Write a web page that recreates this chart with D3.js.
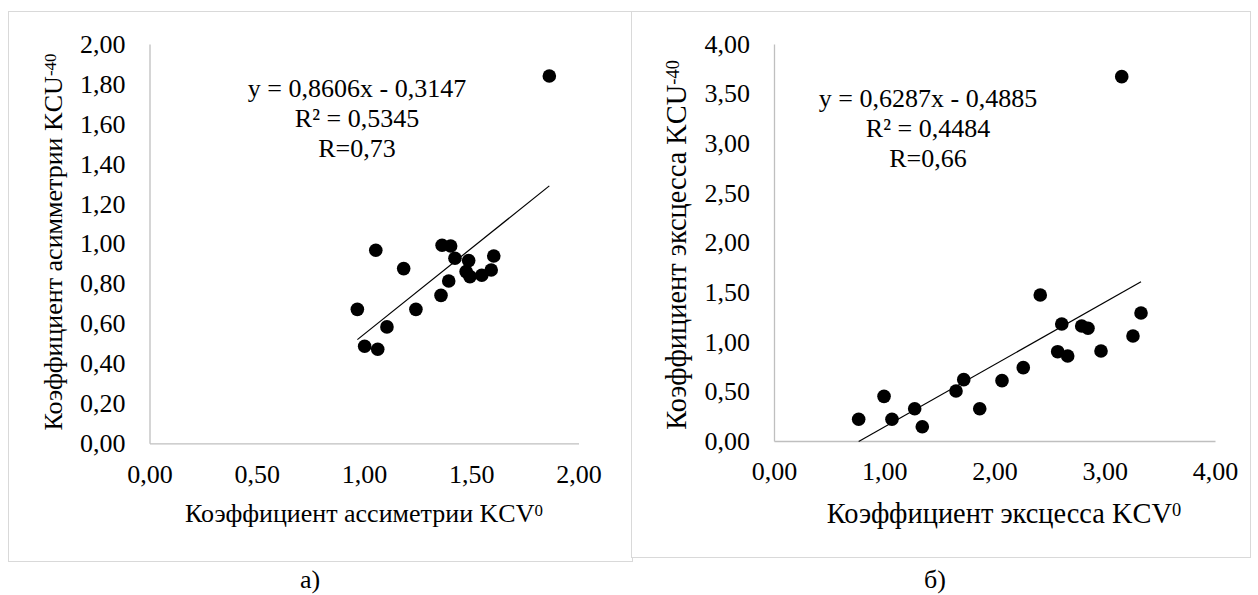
<!DOCTYPE html>
<html>
<head>
<meta charset="utf-8">
<script src="https://cdn.jsdelivr.net/npm/d3@7"></script>
<style>
  body { margin: 0; background: #fff; }
  svg text { font-family: "Liberation Serif", Tinos, "Times New Roman", "DejaVu Serif", serif; fill: #000; }
</style>
</head>
<body>
<svg width="1258" height="595"></svg>
<script>
// ---- data: chart а) (asymmetry) ----
const asymX = [1.055, 1.185, 0.969, 1.107, 1.003, 1.064, 1.242, 1.359, 1.395, 1.364,
               1.404, 1.424, 1.488, 1.476, 1.494, 1.549, 1.593, 1.605, 1.864];
const asymY = [0.967, 0.875, 0.671, 0.583, 0.486, 0.471, 0.671, 0.741, 0.813, 0.992,
               0.988, 0.927, 0.915, 0.860, 0.835, 0.842, 0.868, 0.938, 1.840];
const asymTrend = {slope: 0.8606, intercept: -0.3147};
const asymEq = ['y = 0,8606x - 0,3147', 'R² = 0,5345', 'R=0,73'];
const asymXTicks = [0, 0.5, 1, 1.5, 2];
const asymYTicks = [0, 0.2, 0.4, 0.6, 0.8, 1, 1.2, 1.4, 1.6, 1.8, 2];

// ---- data: chart б) (excess) ----
const excX = [0.768, 0.998, 1.070, 1.276, 1.345, 1.651, 1.721, 1.866, 2.068, 2.261,
              2.415, 2.610, 2.573, 2.664, 2.791, 2.848, 2.966, 3.256, 3.329, 3.154];
const excY = [0.219, 0.450, 0.219, 0.325, 0.144, 0.504, 0.618, 0.325, 0.608, 0.739,
              1.471, 1.179, 0.900, 0.856, 1.159, 1.136, 0.907, 1.058, 1.290, 3.671];
const excTrend = {slope: 0.6287, intercept: -0.4885};
const excEq = ['y = 0,6287x - 0,4885', 'R² = 0,4484', 'R=0,66'];
const excXTicks = [0, 1, 2, 3, 4];
const excYTicks = [0, 0.5, 1, 1.5, 2, 2.5, 3, 3.5, 4];

const svg = d3.select('svg');
const ru = d3.formatLocale({decimal: ',', thousands: ' ', grouping: [3], currency: ['', '']});
const fmt = ru.format('.2f');

// chart frames (right one drawn over the left one)
svg.append('rect').attr('x', 8.5).attr('y', 11.5).attr('width', 624).attr('height', 550)
    .attr('fill', '#fff').attr('stroke', '#d9d9d9');
svg.append('rect').attr('x', 631.5).attr('y', 11.5).attr('width', 619).attr('height', 546)
    .attr('fill', '#fff').attr('stroke', '#d9d9d9');

const drawPanel = function(p) {
    var x = d3.scaleLinear().domain([0, p.xMax]).range(p.xRange);
    var y = d3.scaleLinear().domain([0, p.yMax]).range(p.yRange);

    var yAxis = svg.append('g')
        .attr('transform', `translate(${p.xRange[0]},0)`)
        .call(d3.axisLeft(y).tickValues(p.yTicks).tickFormat(fmt).tickSize(0).tickPadding(24));
    var xAxis = svg.append('g')
        .attr('transform', `translate(0,${p.yRange[0]})`)
        .call(d3.axisBottom(x).tickValues(p.xTicks).tickFormat(fmt).tickSize(0).tickPadding(21));

    [xAxis, yAxis].forEach(function(a) {
        a.attr('font-family', null).attr('font-size', null);
        a.select('.domain').attr('stroke', '#bfbfbf').attr('stroke-width', 1.3);
        a.selectAll('text').style('font-size', '26px').attr('fill', '#000');
    });

    // trend line over the data range
    var x0 = d3.min(p.xs), x1 = d3.max(p.xs);
    svg.append('line')
        .attr('x1', x(x0)).attr('y1', y(p.trend.slope * x0 + p.trend.intercept))
        .attr('x2', x(x1)).attr('y2', y(p.trend.slope * x1 + p.trend.intercept))
        .attr('stroke', '#000').attr('stroke-width', 1.2);

    svg.append('g').selectAll('circle')
        .data(p.xs.map((d, i) => [d, p.ys[i]]))
        .enter()
        .append('circle')
        .attr('cx', d => x(d[0]))
        .attr('cy', d => y(d[1]))
        .attr('r', 6.8)
        .attr('fill', '#000');

    // equation block
    svg.append('g').selectAll('text')
        .data(p.eq)
        .enter()
        .append('text')
        .attr('x', p.eqPos[0])
        .attr('y', (d, i) => p.eqPos[1] + i * 30)
        .attr('text-anchor', 'middle')
        .style('font-size', '26px')
        .text(d => d);

    // x title
    var xt = svg.append('text')
        .attr('x', p.xTitlePos[0]).attr('y', p.xTitlePos[1])
        .attr('text-anchor', 'middle')
        .style('font-size', p.titleSize + 'px')
        .text(p.xTitle);
    xt.append('tspan').attr('baseline-shift', '38%').style('font-size', (p.titleSize * 0.65) + 'px').text('0');

    // y title
    var yt = svg.append('text')
        .attr('transform', `translate(${p.yTitlePos[0]},${p.yTitlePos[1]}) rotate(-90)`)
        .attr('text-anchor', 'middle')
        .style('font-size', p.titleSize + 'px')
        .text(p.yTitle);
    yt.append('tspan').attr('baseline-shift', '38%').style('font-size', (p.titleSize * 0.65) + 'px').text('-40');

    svg.append('text')
        .attr('x', p.caption[0]).attr('y', p.caption[1])
        .attr('text-anchor', 'middle')
        .style('font-size', '26px')
        .text(p.captionText);
};

drawPanel({
    xs: asymX, ys: asymY, trend: asymTrend, eq: asymEq,
    xMax: 2, yMax: 2, xTicks: asymXTicks, yTicks: asymYTicks,
    xRange: [149.5, 578.5], yRange: [443.3, 44],
    eqPos: [357, 97], titleSize: 26,
    xTitle: 'Коэффициент ассиметрии KCV', xTitlePos: [364, 522],
    yTitle: 'Коэффициент асимметрии KCU', yTitlePos: [62, 242],
    caption: [310, 588], captionText: 'а)'
});

drawPanel({
    xs: excX, ys: excY, trend: excTrend, eq: excEq,
    xMax: 4, yMax: 4, xTicks: excXTicks, yTicks: excYTicks,
    xRange: [774, 1215], yRange: [441, 44],
    eqPos: [928, 107], titleSize: 28.4,
    xTitle: 'Коэффициент эксцесса KCV', xTitlePos: [1004, 523],
    yTitle: 'Коэффициент эксцесса KCU', yTitlePos: [686, 245],
    caption: [935, 588], captionText: 'б)'
});
</script>
</body>
</html>
